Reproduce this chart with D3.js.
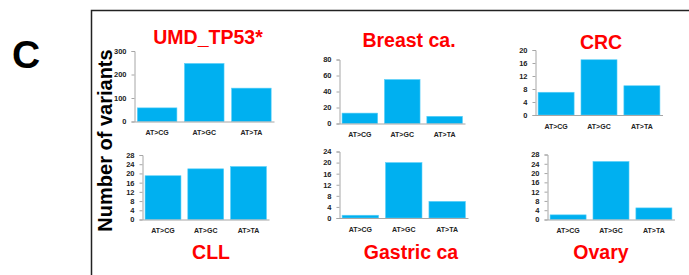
<!DOCTYPE html>
<html>
<head>
	<meta charset="utf-8" />
	<title>D3</title>
	<script src="https://d3js.org/d3.v7.min.js"></script>
	<style>
		body { margin: 0; background: #fff; }
		text { font-family: "Liberation Sans", Arial, sans-serif; }
	</style>
</head>
<body>

<script>
var categories = ["AT>CG", "AT>GC", "AT>TA"];

var titles = ["UMD_TP53*", "Breast ca.", "CRC", "CLL", "Gastric ca", "Ovary"];

var umdValues = [58, 247, 142];
var breastValues = [13, 55, 9];
var crcValues = [7, 17, 9];
var cllValues = [19, 22, 23];
var gastricValues = [1, 20, 6];
var ovaryValues = [2, 25, 5];

var umdTicks = [0, 100, 200, 300];
var breastTicks = [0, 20, 40, 60, 80];
var crcTicks = [0, 4, 8, 12, 16, 20];
var cllTicks = [0, 4, 8, 12, 16, 20, 24, 28];
var gastricTicks = [0, 4, 8, 12, 16, 20, 24];
var ovaryTicks = [0, 4, 8, 12, 16, 20, 24, 28];

var values = [umdValues, breastValues, crcValues, cllValues, gastricValues, ovaryValues];
var ticks = [umdTicks, breastTicks, crcTicks, cllTicks, gastricTicks, ovaryTicks];

// where each little chart sits on the page
var layout = [
	{ l: 134.5, r: 274, b: 121.5, t: 51, tx: 208, ty: 44 },
	{ l: 339.5, r: 465, b: 123.5, t: 59.5, tx: 409, ty: 46.5 },
	{ l: 535.5, r: 662.5, b: 115, t: 50, tx: 601, ty: 49 },
	{ l: 142.5, r: 269, b: 219.5, t: 155, tx: 211, ty: 259 },
	{ l: 339.5, r: 468, b: 218, t: 151.5, tx: 411, ty: 259 },
	{ l: 547.5, r: 674.5, b: 219.5, t: 154.5, tx: 601, ty: 259 }
];

var svg = d3.select("body").append("svg")
			.attr("width", 689)
			.attr("height", 275);

// frame
svg.append("path")
	.attr("d", "M91.5,275 V10.5 H689")
	.attr("fill", "none")
	.attr("stroke", "#222")
	.attr("stroke-width", 1.5);

svg.append("text")
	.attr("x", 12)
	.attr("y", 68)
	.attr("font-size", 39)
	.attr("font-weight", "bold")
	.attr("fill", "#000")
	.text("C");

svg.append("text")
	.attr("transform", "translate(111.5,140.5) rotate(-90)")
	.attr("text-anchor", "middle")
	.attr("font-size", 20)
	.attr("font-weight", "bold")
	.attr("fill", "#000")
	.text("Number of variants");

layout.forEach(function(p, i){
	var x = d3.scaleBand()
		.domain(categories)
		.range([p.l, p.r])
		.paddingInner(0.16)
		.paddingOuter(0.06);

	var tk = ticks[i];
	var y = d3.scaleLinear()
		.domain([0, tk[tk.length - 1]])
		.range([p.b, p.t]);

	var g = svg.append("g");

	g.selectAll("rect")
		.data(values[i])
		.enter()
		.append("rect")
		.attr("x", function(d, j){ return x(categories[j]); })
		.attr("y", function(d){ return y(d); })
		.attr("width", x.bandwidth())
		.attr("height", function(d){ return p.b - y(d); })
		.attr("fill", "#00b0f0")
		.attr("stroke", "#5cd0f8")
		.attr("stroke-width", 0.6);

	var ya = g.append("g")
		.attr("transform", "translate(" + p.l + ",0)")
		.call(d3.axisLeft(y).tickValues(tk).tickSize(3).tickPadding(5));
	ya.select(".domain").attr("stroke", "#a6a6a6");
	ya.selectAll(".tick line").attr("stroke", "#a6a6a6");
	ya.selectAll("text")
		.attr("font-size", 7.5)
		.attr("font-weight", "bold")
		.attr("fill", "#222");

	var xa = g.append("g")
		.attr("transform", "translate(0," + p.b + ")")
		.call(d3.axisBottom(x).tickSize(0).tickPadding(9).tickSizeOuter(0));
	xa.select(".domain").attr("stroke", "#a6a6a6");
	xa.selectAll("text")
		.attr("font-size", 7)
		.attr("font-weight", "bold")
		.attr("fill", "#222");

	svg.append("text")
		.attr("x", p.tx)
		.attr("y", p.ty)
		.attr("text-anchor", "middle")
		.attr("font-size", 19.5)
		.attr("font-weight", "bold")
		.attr("fill", "#ff0000")
		.text(titles[i]);
});
</script>
</body>
</html>
